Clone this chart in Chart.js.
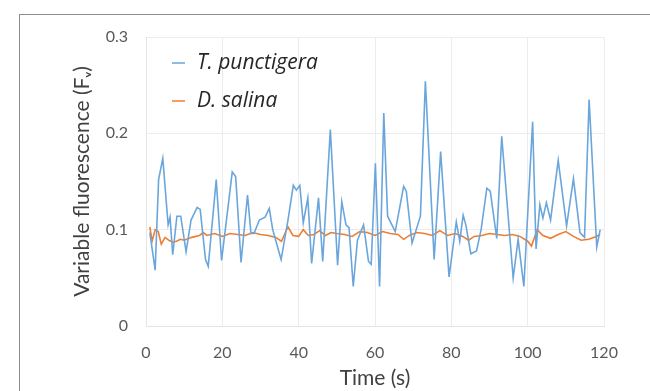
<!DOCTYPE html>
<html>
<head>
<meta charset="utf-8">
<title>Variable fluorescence</title>
<script src="https://cdn.jsdelivr.net/npm/chart.js@4.4.1/dist/chart.umd.min.js"></script>
<style>
  html, body { margin: 0; padding: 0; background: #fff; }
  #wrap { position: relative; width: 650px; height: 391px; overflow: hidden; }
  #frame { position: absolute; left: 19px; top: 14px; width: 700px; height: 500px;
           border-left: 1.5px solid #8c8c8c; border-top: 1.5px solid #8c8c8c; }
  canvas { position: absolute; left: 0; top: 0; }
</style>
</head>
<body>
<div id="wrap">
  <div id="frame"></div>
  <canvas id="fvChart" width="650" height="391"></canvas>
</div>
<script>
// series names
const seriesNames = ['T. punctigera', 'D. salina'];

// T. punctigera (blue) - time (s) and Fv
const tpTimes = [1, 2.4, 3.3, 4.4, 5.8, 6.3, 7.0, 8.1, 9.1, 10.5, 11.8, 13.4, 14.2, 15.6, 16.3, 18.4, 19.8,
  22.6, 23.5, 24.9, 26.6, 27.5, 28.3, 29.7, 31.2, 32.3, 33.2, 35.4, 37.2, 38.6, 39.4, 40.3, 41.2, 42.4,
  43.4, 45.2, 46.3, 48.3, 50.2, 51.3, 52.4, 53.2, 54.3, 55.4, 57.0, 58.3, 59.0, 60.1, 61.2, 62.3, 63.3,
  65.3, 67.5, 68.2, 69.7, 71.9, 73.2, 75.5, 77.2, 79.4, 81.3, 82.2, 83.1, 83.8, 85.1, 86.6, 87.8, 89.3,
  90.2, 91.9, 93.2, 96.2, 97.5, 99.0, 101.3, 102.2, 103.2, 104.0, 104.9, 106.0, 108.0, 110.2, 112.0,
  113.7, 114.9, 116.1, 118.1, 119.0];
const tpValues = [0.097, 0.058, 0.152, 0.174, 0.105, 0.113, 0.074, 0.114, 0.114, 0.077, 0.110, 0.123, 0.121, 0.069, 0.062, 0.152, 0.068,
  0.160, 0.155, 0.066, 0.136, 0.096, 0.096, 0.110, 0.113, 0.122, 0.100, 0.069, 0.110, 0.146, 0.141, 0.146, 0.107, 0.133,
  0.065, 0.133, 0.067, 0.204, 0.063, 0.129, 0.105, 0.102, 0.041, 0.089, 0.105, 0.067, 0.064, 0.169, 0.041, 0.221, 0.114,
  0.098, 0.145, 0.140, 0.086, 0.114, 0.254, 0.069, 0.181, 0.051, 0.108, 0.088, 0.115, 0.105, 0.075, 0.078, 0.100, 0.143,
  0.140, 0.091, 0.197, 0.050, 0.090, 0.041, 0.212, 0.080, 0.126, 0.112, 0.128, 0.110, 0.172, 0.104, 0.153,
  0.097, 0.092, 0.235, 0.082, 0.100];

// D. salina (orange)
const dsTimes = [1, 1.6, 2.4, 3.2, 4, 5, 6, 7, 8, 9, 10, 12, 14, 15, 16, 18, 20, 22, 24, 26, 28, 30, 32, 34,
  35.5, 37.2, 38.5, 40, 41.2, 42.5, 44, 45.5, 47, 48.5, 50, 52, 54, 56, 58, 60, 62, 64, 66, 67.5, 69, 71,
  73, 75, 77, 79, 81, 83, 84.5, 86, 88, 90, 92, 94, 96, 98, 100, 101, 102.5, 104, 106, 108, 110, 112,
  114, 116, 118, 119];
const dsValues = [0.103, 0.088, 0.100, 0.098, 0.085, 0.092, 0.089, 0.087, 0.088, 0.090, 0.089, 0.092, 0.094, 0.097, 0.094, 0.096, 0.093, 0.096, 0.095, 0.094, 0.097, 0.095, 0.094, 0.092,
  0.088, 0.103, 0.094, 0.093, 0.100, 0.094, 0.095, 0.099, 0.094, 0.097, 0.096, 0.095, 0.093, 0.098, 0.097, 0.094, 0.098, 0.096, 0.095, 0.090, 0.094, 0.097,
  0.096, 0.094, 0.099, 0.094, 0.096, 0.093, 0.089, 0.093, 0.094, 0.096, 0.095, 0.094, 0.095, 0.093, 0.088, 0.083, 0.100, 0.094, 0.091, 0.095, 0.098, 0.093,
  0.089, 0.090, 0.093, 0.095];

// axis ticks
const xTicks = [0, 20, 40, 60, 80, 100, 120];
const yTicks = [0, 0.1, 0.2, 0.3];
const yTickLabels = ['0', '0.1', '0.2', '0.3'];

const colors = ['#6aa6dc', '#ed7d31'];
const FONT = 'Lato, "Open Sans", "DejaVu Sans", sans-serif';

const toPoints = (xs, ys) => xs.map((x, i) => ({ x: x, y: ys[i] }));

// legend drawn inside the plot, top left
const insideLegend = {
  id: 'insideLegend',
  afterDatasetsDraw(chart) {
    const ctx = chart.ctx;
    const area = chart.chartArea;
    ctx.save();
    ctx.font = 'italic 21px "Open Sans", sans-serif';
    ctx.textBaseline = 'middle';
    chart.data.datasets.forEach((ds, i) => {
      const y = area.top + 26 + i * 38;
      const x = area.left + 26;
      ctx.strokeStyle = ds.borderColor;
      ctx.lineWidth = 1.5;
      ctx.beginPath();
      ctx.moveTo(x, y);
      ctx.lineTo(x + 13, y);
      ctx.stroke();
      ctx.fillStyle = '#262626';
      ctx.fillText(ds.label, x + 25, y);
    });
    ctx.restore();
  }
};

new Chart(document.getElementById('fvChart'), {
  type: 'line',
  data: {
    datasets: [
      { label: seriesNames[0], data: toPoints(tpTimes, tpValues), borderColor: colors[0], backgroundColor: colors[0], borderWidth: 1.6 },
      { label: seriesNames[1], data: toPoints(dsTimes, dsValues), borderColor: colors[1], backgroundColor: colors[1], borderWidth: 1.6 }
    ]
  },
  options: {
    responsive: false,
    animation: false,
    layout: { padding: { left: 60, top: 37, right: 46, bottom: 0 } },
    elements: { point: { radius: 0 }, line: { tension: 0 } },
    plugins: { legend: { display: false }, tooltip: { enabled: false } },
    scales: {
      x: {
        type: 'linear', min: 0, max: 120,
        afterBuildTicks: s => { s.ticks = xTicks.map(v => ({ value: v })); },
        afterFit: s => { s.height = 65; },
        grid: { color: '#ececec', drawTicks: false },
        border: { color: '#e4e4e4' },
        ticks: { padding: 17, color: '#595959', font: { family: FONT, size: 16 } },
        title: { display: true, text: 'Time (s)', color: '#404040', padding: { top: 0, bottom: 0 },
                 font: { family: FONT, size: 21 } }
      },
      y: {
        min: 0, max: 0.3,
        afterBuildTicks: s => { s.ticks = yTicks.map(v => ({ value: v })); },
        afterFit: s => { s.width = 86; },
        grid: { color: '#ececec', drawTicks: false },
        border: { color: '#e4e4e4' },
        ticks: { padding: 18, color: '#595959', font: { family: FONT, size: 16 } ,
                 callback: (v, i) => yTickLabels[i] },
        title: { display: true, text: 'Variable fluorescence (Fᵥ)', color: '#404040', padding: { top: 10, bottom: 0 },
                 font: { family: FONT, size: 21 } }
      }
    }
  },
  plugins: [insideLegend]
});
</script>
</body>
</html>
